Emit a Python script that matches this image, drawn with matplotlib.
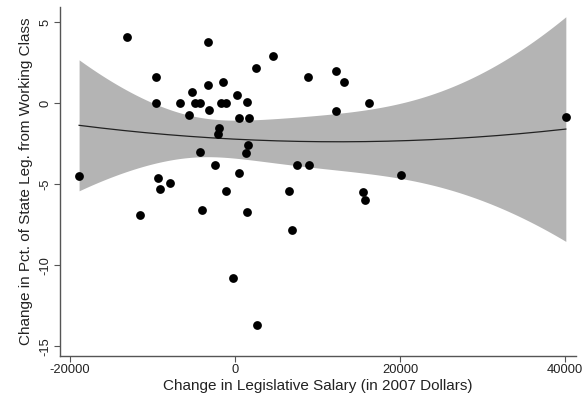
import numpy as np
import matplotlib
matplotlib.use('Agg')
import matplotlib.pyplot as plt

# Change in legislative salary (2007 dollars) and change in pct. working class, per state
salary_change = [
    -18900, -13100, -9600, -9600, -9300, -9100, -7900, -11500, -6700, -5600,
    -5200, -4800, -4200, -4200, -3300, -3300, -3200, -2400, -2000, -2100,
    -1400, -1700, -1100, -1100, -4000, 200, 500, 1400, 1700, 1600,
    1300, 500, 2500, 4600, 1500, -200, 2700, 7500, 9000, 6500,
    6900, 8800, 12200, 12300, 13200, 16200, 40100, 20100, 15500, 15700,
]
wc_change = [
    -4.5, 4.1, 1.6, 0.0, -4.6, -5.3, -4.9, -6.9, 0.0, -0.7,
    0.7, 0.0, 0.0, -3.0, 3.8, 1.1, -0.4, -3.8, -1.5, -1.9,
    1.3, 0.0, 0.0, -5.4, -6.6, 0.5, -0.9, 0.1, -0.9, -2.6,
    -3.1, -4.3, 2.2, 2.9, -6.7, -10.8, -13.7, -3.8, -3.8, -5.4,
    -7.8, 1.6, 2.0, -0.5, 1.3, 0.0, -0.85, -4.4, -5.5, -6.0,
]
x_ticks = [-20000, 0, 20000, 40000]
y_ticks = [-15, -10, -5, 0, 5]

x = np.array(salary_change, dtype=float)
y = np.array(wc_change, dtype=float)

# Quadratic fit with 95% CI of the prediction (like Stata's qfitci)
X = np.column_stack([np.ones_like(x), x, x ** 2])
beta, *_ = np.linalg.lstsq(X, y, rcond=None)
resid = y - X @ beta
s2 = resid @ resid / (len(x) - 3)
xtx_inv = np.linalg.inv(X.T @ X)
xg = np.linspace(x.min(), x.max(), 200)
Xg = np.column_stack([np.ones_like(xg), xg, xg ** 2])
yg = Xg @ beta
se = np.sqrt(s2 * np.einsum('ij,jk,ik->i', Xg, xtx_inv, Xg))
t_crit = 2.012

plt.rcParams['font.family'] = ['Liberation Sans', 'DejaVu Sans']

fig = plt.figure(figsize=(5.85, 3.96), dpi=100, facecolor='white')
ax = fig.add_axes([0.1026, 0.101, 0.882, 0.881])

ax.fill_between(xg, yg - t_crit * se, yg + t_crit * se, color='#b4b4b4', lw=0, zorder=1)
ax.plot(xg, yg, color='#222222', lw=0.9, zorder=2)
ax.scatter(x, y, s=40, color='black', lw=0, zorder=3)

ax.set_xlim(-21212, 41333)
ax.set_ylim(-15.6, 5.93)
ax.set_xticks(x_ticks)
ax.set_yticks(y_ticks)
ax.set_xticklabels([str(v) for v in x_ticks], fontsize=9.3, color='#222222')
ax.set_yticklabels([str(v) for v in y_ticks], fontsize=9.3, color='#222222',
                   rotation=90, va='center')

for side in ['top', 'right']:
    ax.spines[side].set_visible(False)
for side in ['left', 'bottom']:
    ax.spines[side].set_color('#555555')
    ax.spines[side].set_linewidth(1.0)
ax.tick_params(direction='out', length=4, width=0.8, color='#555555', pad=2)

ax.set_xlabel('Change in Legislative Salary (in 2007 Dollars)', fontsize=11,
              color='#222222', labelpad=2)
ax.set_ylabel('Change in Pct. of State Leg. from Working Class', fontsize=11,
              color='#222222', labelpad=5)

fig.savefig('out.png', dpi=100, facecolor='white')
